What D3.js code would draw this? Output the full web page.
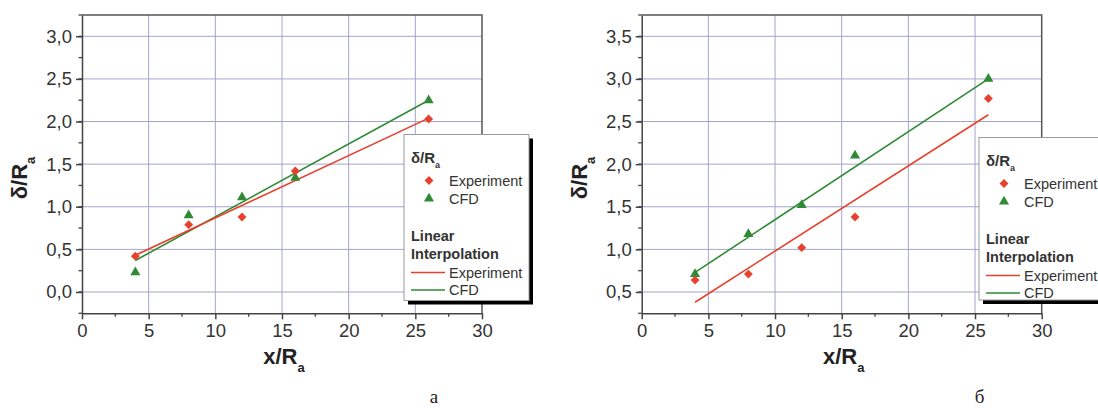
<!DOCTYPE html>
<html>
<head>
<meta charset="utf-8">
<script src="https://cdn.jsdelivr.net/npm/d3@7"></script>
<style>
body { margin:0; background:#fff; }
text { font-family: "Liberation Sans", Arial, sans-serif; fill:#333; }
</style>
</head>
<body>
<div id="graph"></div>
<script>
const width = 1098, height = 408;

// shared x positions (x/Ra)
var xPoints = [4, 8, 12, 16, 26];
var fitX = [4, 26];
var xTicks = [0, 5, 10, 15, 20, 25, 30];

// chart a
var expA = [0.42, 0.79, 0.88, 1.42, 2.03];
var cfdA = [0.23, 0.90, 1.11, 1.34, 2.25];
var fitExpA = [0.43, 2.04];
var fitCfdA = [0.37, 2.25];
var yTicksA = [0.0, 0.5, 1.0, 1.5, 2.0, 2.5, 3.0];

// chart b
var expB = [0.64, 0.71, 1.02, 1.38, 2.77];
var cfdB = [0.71, 1.18, 1.52, 2.10, 3.00];
var fitExpB = [0.38, 2.58];
var fitCfdB = [0.73, 3.00];
var yTicksB = [0.5, 1.0, 1.5, 2.0, 2.5, 3.0, 3.5];

var red = "#e8402c", green = "#2f8a36";
var gridColor = "#a4a4cc";
var fmt = d3.formatLocale({decimal: ",", thousands: " ", grouping: [3], currency: ["", ""]}).format(".1f");

var svg = d3.select("div#graph").append("svg")
	.attr("width", width)
	.attr("height", height)

function drawChart(o) {
	var g = svg.append("g")
	var x = d3.scaleLinear().domain([0, 30]).range([o.left, o.left + 400])
	var y = d3.scaleLinear().domain(o.yDomain).range([313.3, 15])

	// grid
	g.selectAll("line.vg").data(xTicks.slice(1, -1)).enter().append("line")
		.attr("x1", d => x(d)).attr("x2", d => x(d))
		.attr("y1", y.range()[0]).attr("y2", y.range()[1])
		.style("stroke", gridColor).style("stroke-width", 1)
	g.selectAll("line.hg").data(o.yTicks).enter().append("line")
		.attr("x1", x(0)).attr("x2", x(30))
		.attr("y1", d => y(d)).attr("y2", d => y(d))
		.style("stroke", gridColor).style("stroke-width", 1)

	// frame top + right
	g.append("path")
		.attr("d", "M" + x(0) + "," + y.range()[1] + "H" + x(30) + "V" + y.range()[0])
		.style("fill", "none").style("stroke", "#555").style("stroke-width", 1.5)

	// axes
	var yMinor = d3.range(o.yDomain[0], o.yDomain[1] + 0.001, 0.25)
	var xMinor = d3.range(2.5, 30, 5)
	var xAxis = g.append("g").attr("transform", "translate(0," + y.range()[0] + ")")
		.call(d3.axisBottom(x).tickValues(xTicks).tickSize(6).tickSizeOuter(0).tickPadding(5))
	xAxis.selectAll("text").style("font-size", "18.5px").style("fill", "#333")
	xAxis.selectAll("line, path").style("stroke", "#444").style("stroke-width", 1.5)
	xAxis.selectAll("line.minor").data(xMinor).enter().append("line")
		.attr("x1", d => x(d)).attr("x2", d => x(d)).attr("y1", 0).attr("y2", 3.5)
		.style("stroke", "#444").style("stroke-width", 1.3)

	var yAxis = g.append("g").attr("transform", "translate(" + x(0) + ",0)")
		.call(d3.axisLeft(y).tickValues(o.yTicks).tickFormat(fmt).tickSize(6).tickSizeOuter(0).tickPadding(4))
	yAxis.selectAll("text").style("font-size", "18.5px").style("fill", "#333")
	yAxis.selectAll("line, path").style("stroke", "#444").style("stroke-width", 1.5)
	yAxis.selectAll("line.minor").data(yMinor).enter().append("line")
		.attr("y1", d => y(d)).attr("y2", d => y(d)).attr("x1", 0).attr("x2", -3.5)
		.style("stroke", "#444").style("stroke-width", 1.3)

	// fit lines
	var line = d3.line().x(d => x(d[0])).y(d => y(d[1]))
	g.append("path").datum(fitX.map((v, i) => [v, o.fitCfd[i]])).attr("d", line)
		.style("fill", "none").style("stroke", green).style("stroke-width", 1.6)
	g.append("path").datum(fitX.map((v, i) => [v, o.fitExp[i]])).attr("d", line)
		.style("fill", "none").style("stroke", red).style("stroke-width", 1.6)

	// markers
	var diamond = d3.symbol().type(d3.symbolDiamond2).size(50)
	var tri = d3.symbol().type(d3.symbolTriangle).size(44)
	g.selectAll("path.cfd").data(o.cfd).enter().append("path")
		.attr("transform", (d, i) => "translate(" + x(xPoints[i]) + "," + y(d) + ")")
		.attr("d", tri).style("fill", green)
	g.selectAll("path.exp").data(o.exp).enter().append("path")
		.attr("transform", (d, i) => "translate(" + x(xPoints[i]) + "," + y(d) + ")")
		.attr("d", diamond).style("fill", red)

	// axis titles
	var xt = g.append("text").attr("x", x(15) + 2).attr("y", 364)
		.attr("text-anchor", "middle").style("font-weight", "bold").style("font-size", "22px").style("fill", "#222")
	xt.append("tspan").text("x/R")
	xt.append("tspan").attr("dy", 8).style("font-size", "13px").text("a")
	var yt = g.append("text").attr("transform", "translate(" + (o.left - 55) + ",178) rotate(-90)")
		.attr("text-anchor", "middle").style("font-weight", "bold").style("font-size", "22px").style("fill", "#222")
	yt.append("tspan").text("δ/R")
	yt.append("tspan").attr("dy", 8).style("font-size", "13px").text("a")

	// legend
	var lg = g.append("g").attr("transform", "translate(" + o.legX + "," + o.legY + ")")
	lg.append("rect").attr("x", 4).attr("y", 4).attr("width", 125).attr("height", o.legH).style("fill", "#000")
	lg.append("rect").attr("width", 125).attr("height", o.legH)
		.style("fill", "#fff").style("stroke", "#999").style("stroke-width", 1)
	var t1 = lg.append("text").attr("x", 7).attr("y", 28).style("font-weight", "bold").style("font-size", "15px")
	t1.append("tspan").text("δ/R")
	t1.append("tspan").attr("dy", 5).style("font-size", "9px").text("a")
	lg.append("path").attr("transform", "translate(25,46)").attr("d", diamond).style("fill", red)
	lg.append("path").attr("transform", "translate(25,64)").attr("d", tri).style("fill", green)
	lg.append("text").attr("x", 45).attr("y", 51).style("font-size", "14.5px").text("Experiment")
	lg.append("text").attr("x", 45).attr("y", 69).style("font-size", "14.5px").text("CFD")
	lg.append("text").attr("x", 7).attr("y", 106).style("font-weight", "bold").style("font-size", "14.5px").text("Linear")
	lg.append("text").attr("x", 7).attr("y", 124).style("font-weight", "bold").style("font-size", "14.5px").text("Interpolation")
	lg.append("line").attr("x1", 7).attr("x2", 41).attr("y1", 138).attr("y2", 138).style("stroke", red).style("stroke-width", 1.6)
	lg.append("line").attr("x1", 7).attr("x2", 41).attr("y1", 155.5).attr("y2", 155.5).style("stroke", green).style("stroke-width", 1.6)
	lg.append("text").attr("x", 45).attr("y", 143).style("font-size", "14.5px").text("Experiment")
	lg.append("text").attr("x", 45).attr("y", 160.5).style("font-size", "14.5px").text("CFD")

	// caption
	svg.append("text").attr("x", o.capX).attr("y", 403).attr("text-anchor", "middle")
		.style("font-family", "'Liberation Serif', 'Times New Roman', serif").style("font-size", "19px").style("fill", "#222")
		.text(o.caption)
}

drawChart({left: 82, yDomain: [-0.25, 3.25], yTicks: yTicksA, exp: expA, cfd: cfdA,
	fitExp: fitExpA, fitCfd: fitCfdA, legX: 404, legY: 134.5, legH: 166, capX: 434, caption: "а"})
drawChart({left: 641.7, yDomain: [0.25, 3.75], yTicks: yTicksB, exp: expB, cfd: cfdB,
	fitExp: fitExpB, fitCfd: fitCfdB, legX: 979, legY: 137.5, legH: 162.5, capX: 979.5, caption: "б"})
</script>
</body>
</html>
